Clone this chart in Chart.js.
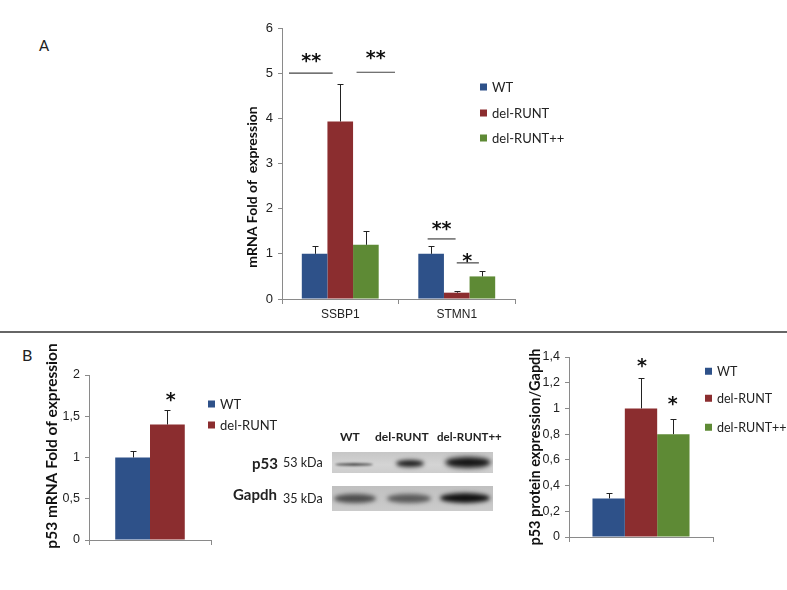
<!DOCTYPE html>
<html>
<head>
<meta charset="utf-8">
<script src="https://cdn.jsdelivr.net/npm/chart.js@4/dist/chart.umd.min.js"></script>
<style>
  body { margin: 0; background: #fff; }
  #fig { position: relative; width: 787px; height: 590px; overflow: hidden; background: #fff;
         font-family: Lato, "Open Sans", sans-serif; color: #222; }
  #fig canvas { position: absolute; }
  .panel { position: absolute; font-size: 16px; line-height: 1; }
  .rule { position: absolute; left: 0; top: 331px; width: 787px; height: 2px; background: #666; }
  .legend { position: absolute; }
  .legend .item { position: absolute; left: 0; white-space: nowrap; line-height: 1; transform: translateY(-50%); }
  .legend .sw { display: inline-block; width: 7px; height: 7px; margin-right: 5px; vertical-align: 1px; }
  .txt { position: absolute; white-space: nowrap; line-height: 1; transform: translateY(-50%); }
  .blot { position: absolute; overflow: hidden; }
  .band { position: absolute; border-radius: 50%; }
</style>
</head>
<body>
<div id="fig">
  <div class="panel" style="left:39px;top:38px;font-size:15px">A</div>
  <div class="panel" style="left:22px;top:347px">B</div>
  <div class="rule"></div>

  <canvas id="chartA" width="330" height="320" style="left:200px;top:10px"></canvas>
  <canvas id="chartB1" width="190" height="220" style="left:30px;top:335px"></canvas>
  <canvas id="chartB2" width="200" height="215" style="left:520px;top:340px"></canvas>

  <div class="legend" id="legendA" style="left:480px;top:0;font-size:13px"></div>
  <div class="legend" id="legendB1" style="left:208px;top:0;font-size:13px"></div>
  <div class="legend" id="legendB2" style="left:705px;top:0;font-size:12.5px"></div>

  <!-- western blot -->
  <div class="txt" style="left:340px;top:437px;font-weight:bold;font-size:12px">WT</div>
  <div class="txt" style="left:375px;top:437px;font-weight:bold;font-size:12px">del-RUNT</div>
  <div class="txt" style="left:437px;top:437px;font-weight:bold;font-size:11.5px">del-RUNT++</div>
  <div class="txt" style="left:252px;top:463px;font-weight:bold;font-size:15px">p53</div>
  <div class="txt" style="left:283px;top:463px;font-size:12.5px">53 kDa</div>
  <div class="txt" style="left:233px;top:494px;font-weight:bold;font-size:15px">Gapdh</div>
  <div class="txt" style="left:283px;top:499px;font-size:12.5px">35 kDa</div>

  <div class="blot" style="left:332px;top:452px;width:161px;height:21px;background:linear-gradient(#c6c6c6,#d4d4d4 60%,#cdcdcd)">
    <div class="band" style="left:3px;top:11px;width:38px;height:3px;background:#555;filter:blur(1.2px)"></div>
    <div class="band" style="left:64px;top:8px;width:28px;height:7px;background:#1d1d1d;filter:blur(2px)"></div>
    <div class="band" style="left:113px;top:5px;width:46px;height:11px;background:#151515;filter:blur(2.5px)"></div>
  </div>
  <div class="blot" style="left:332px;top:486px;width:161px;height:25px;background:linear-gradient(#c0c0c0,#cbcbcb)">
    <div class="band" style="left:2px;top:8px;width:42px;height:9px;background:#4d4d4d;filter:blur(2px)"></div>
    <div class="band" style="left:55px;top:8px;width:44px;height:9px;background:#5a5a5a;filter:blur(2px)"></div>
    <div class="band" style="left:108px;top:7px;width:50px;height:10px;background:#111;filter:blur(2px)"></div>
  </div>
</div>

<script>
// ── Colours & names ─────────────────────────────────
const BLUE  = '#2e5189'
const RED   = '#8b2d2f'
const GREEN = '#5e8a35'
const AXIS  = '#8a8a8a'
const names = ['WT', 'del-RUNT', 'del-RUNT++']

// ── Panel A: mRNA fold of expression ────────────────
const genesA       = ['SSBP1', 'STMN1']
const wtA          = [1.0, 1.0]
const delA         = [3.93, 0.14]
const delPlusA     = [1.2, 0.5]
const wtErrA       = [0.18, 0.18]
const delErrA      = [0.84, 0.03]
const delPlusErrA  = [0.3, 0.13]
const ticksA       = [0, 1, 2, 3, 4, 5, 6]

// ── Panel B (left): p53 mRNA ────────────────────────
const wtB1      = [1.0]
const delB1     = [1.4]
const wtErrB1   = [0.08]
const delErrB1  = [0.17]
const ticksB1   = ['0', '0,5', '1', '1,5', '2']

// ── Panel B (right): p53 protein / Gapdh ────────────
const wtB2         = [0.3]
const delB2        = [1.0]
const delPlusB2    = [0.8]
const wtErrB2      = [0.04]
const delErrB2     = [0.24]
const delPlusErrB2 = [0.12]
const ticksB2      = ['0', '0,2', '0,4', '0,6', '0,8', '1', '1,2', '1,4']

// ── Significance marks (category index + fraction of category, value) ──
const sigLinesA = [
  { cat: 0, from: -0.44, to: -0.065, y: 5.0 },
  { cat: 0, from: 0.14,  to: 0.47,   y: 5.02 },
  { cat: 1, from: -0.25, to: -0.01,  y: 1.33 },
  { cat: 1, from: 0.0,   to: 0.19,   y: 0.8 },
]
const starsA  = [
  { cat: 0, at: -0.25, y: 5.33, text: '**' },
  { cat: 0, at: 0.305, y: 5.40, text: '**' },
  { cat: 1, at: -0.13, y: 1.62, text: '**' },
  { cat: 1, at: 0.09,  y: 0.90, text: '*' },
]
const starsB1 = [{ cat: 0, at: 0.17, y: 1.73, text: '*' }]
const starsB2 = [
  { cat: 0, at: 0.007, y: 1.353, text: '*' },
  { cat: 0, at: 0.22,  y: 1.057, text: '*' },
]

// error bars, significance lines, stars and the rotated y title
const extras = {
  id: 'extras',
  afterDatasetsDraw(chart, args, opts) {
    const ctx = chart.ctx
    const xs = chart.scales.x, ys = chart.scales.y
    const catW = (xs.right - xs.left) / chart.data.labels.length
    const px = (cat, f) => xs.getPixelForValue(cat) + f * catW

    ctx.save()
    ctx.strokeStyle = '#222'
    ctx.lineWidth = 1
    chart.data.datasets.forEach((ds, i) => {
      chart.getDatasetMeta(i).data.forEach((bar, j) => {
        const top = Math.round(ys.getPixelForValue(ds.data[j] + ds.errors[j])) + 0.5
        const x = Math.round(bar.x) + 0.5
        ctx.beginPath()
        ctx.moveTo(x, bar.y)
        ctx.lineTo(x, top)
        ctx.moveTo(x - 3, top)
        ctx.lineTo(x + 3, top)
        ctx.stroke()
      })
    })

    ctx.strokeStyle = '#444'
    ctx.lineWidth = 1.2
    ;(opts.lines || []).forEach(l => {
      const y = ys.getPixelForValue(l.y)
      ctx.beginPath()
      ctx.moveTo(px(l.cat, l.from), y)
      ctx.lineTo(px(l.cat, l.to), y)
      ctx.stroke()
    })

    ctx.fillStyle = '#111'
    ctx.font = 'bold 19px "DejaVu Sans", sans-serif'
    ctx.textAlign = 'center'
    ctx.textBaseline = 'middle'
    ;(opts.stars || []).forEach(s => {
      ctx.fillText(s.text, px(s.cat, s.at), ys.getPixelForValue(s.y) + 4)
    })

    const t = opts.yTitle
    ctx.translate(t.x, t.y)
    ctx.rotate(-Math.PI / 2)
    ctx.font = `bold ${t.size}px Lato, "Open Sans", sans-serif`
    ctx.fillStyle = '#111'
    ctx.fillText(t.text, 0, 0)
    ctx.restore()
  },
}

function makeChart(id, c) {
  return new Chart(document.getElementById(id), {
    type: 'bar',
    data: {
      labels: c.labels,
      datasets: c.series.map(s => ({
        label: s.name,
        data: s.values,
        errors: s.errors,
        backgroundColor: s.color,
        borderWidth: 0,
        barPercentage: 1,
        categoryPercentage: c.catPct,
      })),
    },
    options: {
      responsive: false,
      animation: false,
      layout: { padding: c.padding },
      scales: {
        x: {
          grid: { drawOnChartArea: false, tickLength: 5, color: AXIS },
          border: { color: AXIS },
          ticks: { color: '#222', font: { size: 12 }, padding: 3 },
          afterFit: s => { s.height = c.xHeight },
        },
        y: {
          min: 0,
          max: c.yMax,
          grid: { drawOnChartArea: false, tickLength: 4, color: AXIS },
          border: { color: AXIS },
          ticks: {
            stepSize: c.step,
            color: '#222',
            padding: 5,
            font: { size: c.tickSize },
            callback: (v, i) => c.tickLabels[i],
          },
          afterFit: s => { s.width = c.yWidth },
        },
      },
      plugins: {
        legend: { display: false },
        tooltip: { enabled: false },
        extras: { lines: c.lines, stars: c.stars, yTitle: c.yTitle },
      },
    },
    plugins: [extras],
  })
}

function buildLegend(id, series, rows) {
  const el = document.getElementById(id)
  series.forEach((s, i) => {
    const d = document.createElement('div')
    d.className = 'item'
    d.style.top = rows[i] + 'px'
    d.innerHTML = `<span class="sw" style="background:${s.color}"></span>${s.name}`
    el.appendChild(d)
  })
}

// ── Panel A ─────────────────────────────────────────
const seriesA = [
  { name: names[0], values: wtA,      errors: wtErrA,      color: BLUE },
  { name: names[1], values: delA,     errors: delErrA,     color: RED },
  { name: names[2], values: delPlusA, errors: delPlusErrA, color: GREEN },
]
makeChart('chartA', {
  labels: genesA, series: seriesA, catPct: 0.66,
  padding: { top: 18, right: 15, left: 0, bottom: 0 },
  xHeight: 31, yWidth: 82, yMax: 6, step: 1, tickSize: 13,
  tickLabels: ticksA.map(String),
  lines: sigLinesA, stars: starsA,
  yTitle: { text: 'mRNA Fold of  expression', x: 52, y: 177, size: 14 },
})
buildLegend('legendA', seriesA, [87, 113, 138])

// ── Panel B left ────────────────────────────────────
const seriesB1 = [
  { name: names[0], values: wtB1,  errors: wtErrB1,  color: BLUE },
  { name: names[1], values: delB1, errors: delErrB1, color: RED },
]
makeChart('chartB1', {
  labels: [''], series: seriesB1, catPct: 0.57,
  padding: { top: 40, right: 9, left: 0, bottom: 0 },
  xHeight: 15, yWidth: 59, yMax: 2, step: 0.5, tickSize: 12.5,
  tickLabels: ticksB1,
  lines: [], stars: starsB1,
  yTitle: { text: 'p53 mRNA Fold of expression', x: 22, y: 111, size: 15.5 },
})
buildLegend('legendB1', seriesB1, [404, 425])

// ── Panel B right ───────────────────────────────────
const seriesB2 = [
  { name: names[0], values: wtB2,      errors: wtErrB2,      color: BLUE },
  { name: names[1], values: delB2,     errors: delErrB2,     color: RED },
  { name: names[2], values: delPlusB2, errors: delPlusErrB2, color: GREEN },
]
makeChart('chartB2', {
  labels: [''], series: seriesB2, catPct: 0.674,
  padding: { top: 17, right: 7, left: 0, bottom: 0 },
  xHeight: 18, yWidth: 49, yMax: 1.4, step: 0.2, tickSize: 12.5,
  tickLabels: ticksB2,
  lines: [], stars: starsB2,
  yTitle: { text: 'p53 protein expression/Gapdh', x: 15, y: 107, size: 14.5 },
})
buildLegend('legendB2', seriesB2, [372, 399, 428])
</script>
</body>
</html>
